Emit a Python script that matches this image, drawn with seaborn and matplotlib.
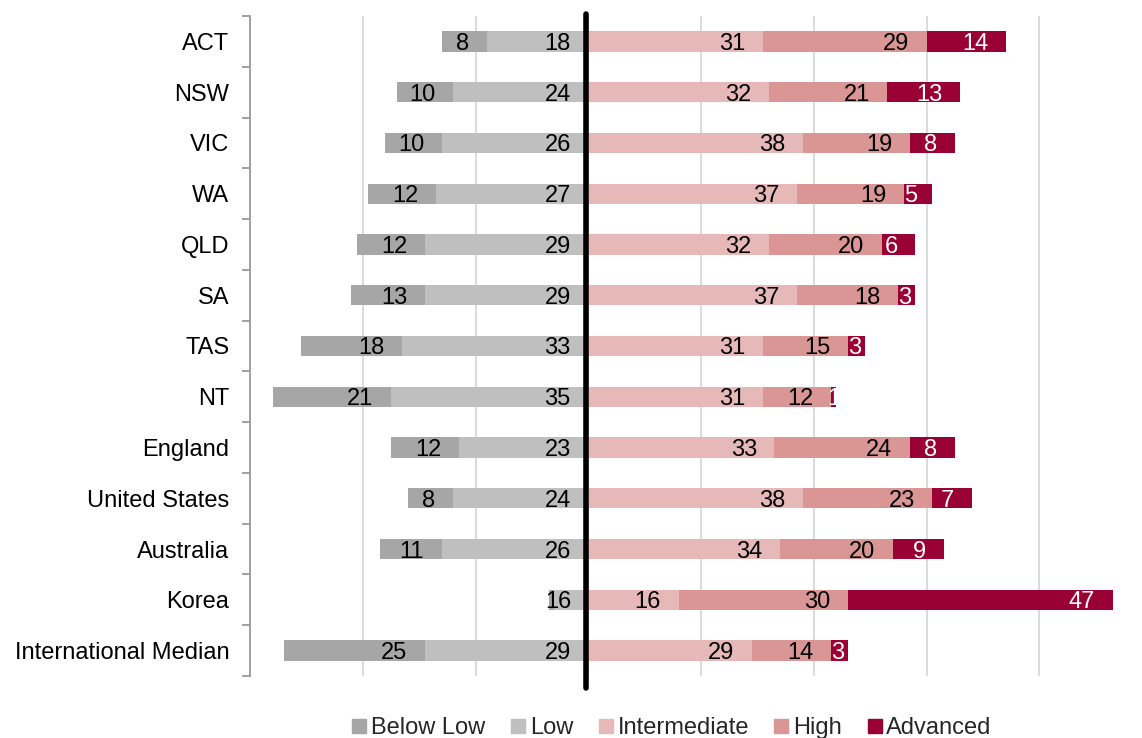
import matplotlib
matplotlib.use("Agg")
import matplotlib.pyplot as plt
from matplotlib.lines import Line2D
from matplotlib.ticker import FixedLocator
import seaborn as sns
import numpy as np

sns.set_style("white")
plt.rcParams["font.family"] = ["Liberation Sans", "DejaVu Sans"]

categories = ["ACT", "NSW", "VIC", "WA", "QLD", "SA", "TAS", "NT",
              "England", "United States", "Australia", "Korea",
              "International Median"]
below_low = [8, 10, 10, 12, 12, 13, 18, 21, 12, 8, 11, 1, 25]
low = [18, 24, 26, 27, 29, 29, 33, 35, 23, 24, 26, 6, 29]
intermediate = [31, 32, 38, 37, 32, 37, 31, 31, 33, 38, 34, 16, 29]
high = [29, 21, 19, 19, 20, 18, 15, 12, 24, 23, 20, 30, 14]
advanced = [14, 13, 8, 5, 6, 3, 3, 1, 8, 7, 9, 47, 3]

series_names = ["Below Low", "Low", "Intermediate", "High", "Advanced"]
colors = {"Below Low": "#a6a6a6", "Low": "#bfbfbf", "Intermediate": "#e6b9b8",
          "High": "#d99694", "Advanced": "#990033"}

W, H = 1142, 738
fig = plt.figure(figsize=(W / 100, H / 100), dpi=100)
ax = fig.add_axes([250 / W, 62 / H, 892 / W, 660 / H])

bl = np.array(below_low, float)
lo = np.array(low, float)
im = np.array(intermediate, float)
hi = np.array(high, float)
ad = np.array(advanced, float)

# stacked bars drawn as overlapping cumulative layers, outermost first
layers = [
    (-(bl + lo), "Below Low"),
    (-lo, "Low"),
    (im + hi + ad, "Advanced"),
    (im + hi, "High"),
    (im, "Intermediate"),
]
for vals, name in layers:
    sns.barplot(x=vals, y=categories, color=colors[name], saturation=1,
                width=0.4, errorbar=None, orient="h", ax=ax, zorder=2,
                linewidth=0, edgecolor="none")

xmin, xmax = -60, 98.2
ax.set_xlim(xmin, xmax)
ax.set_ylim(12.5, -0.5)

# segment value labels, right-aligned inside each segment
fs = 17
px_per_unit = 892 / (xmax - xmin)
pad = 3.1
digit_w = fs / 72 * 100 * 0.556 / px_per_unit
cap_half = (fs / 72 * 100 * 0.716 / 2) / (660 / 13)

def seg_label(left, right, val, y, color):
    txt = f"{val:g}"
    tw = digit_w * len(txt)
    x_right = right - pad
    if x_right - tw < left:
        x_right = left + tw
        if x_right > right:
            x_right = (left + right) / 2 + tw / 2
    ax.text(x_right, y + cap_half, txt, ha="right", va="baseline",
            fontsize=fs, color=color, zorder=4)

for i in range(len(categories)):
    seg_label(-(bl[i] + lo[i]), -lo[i], bl[i], i, "black")
    seg_label(-lo[i], 0, lo[i], i, "black")
    seg_label(0, im[i], im[i], i, "black")
    seg_label(im[i], im[i] + hi[i], hi[i], i, "black")
    seg_label(im[i] + hi[i], im[i] + hi[i] + ad[i], ad[i], i, "white")

# vertical grid
ax.set_xticks([-60, -40, -20, 0, 20, 40, 60, 80])
ax.xaxis.grid(True, color="#d9d9d9", lw=1.3, zorder=0)
ax.set_axisbelow(True)
ax.tick_params(axis="x", bottom=False, labelbottom=False)
ax.set_xlabel("")
ax.set_ylabel("")

# category axis with tick marks between categories
for s in ["top", "right", "bottom"]:
    ax.spines[s].set_visible(False)
ax.spines["left"].set_color("#a0a0a0")
ax.spines["left"].set_linewidth(1.4)
ax.yaxis.set_minor_locator(FixedLocator(np.arange(-0.5, 13, 1)))
ax.tick_params(axis="y", which="major", length=0, pad=15, labelsize=fs,
               labelcolor="black")
ax.tick_params(axis="y", which="minor", length=5.5, width=1.4,
               color="#a0a0a0", left=True)

# zero line
ax.axvline(-0.4, ymin=-0.018, ymax=1.003, color="black", lw=4,
           clip_on=False, zorder=5)

handles = [Line2D([], [], marker="s", linestyle="none", markersize=9.5,
                  markerfacecolor=colors[n], markeredgecolor=colors[n])
           for n in series_names]
fig.legend(handles, series_names, loc="center", ncol=5,
           bbox_to_anchor=(0.588, 0.013), frameon=False, fontsize=fs,
           handlelength=0.7, handletextpad=0.15, columnspacing=1.03,
           borderaxespad=0)

fig.savefig("out.png", dpi=100)
